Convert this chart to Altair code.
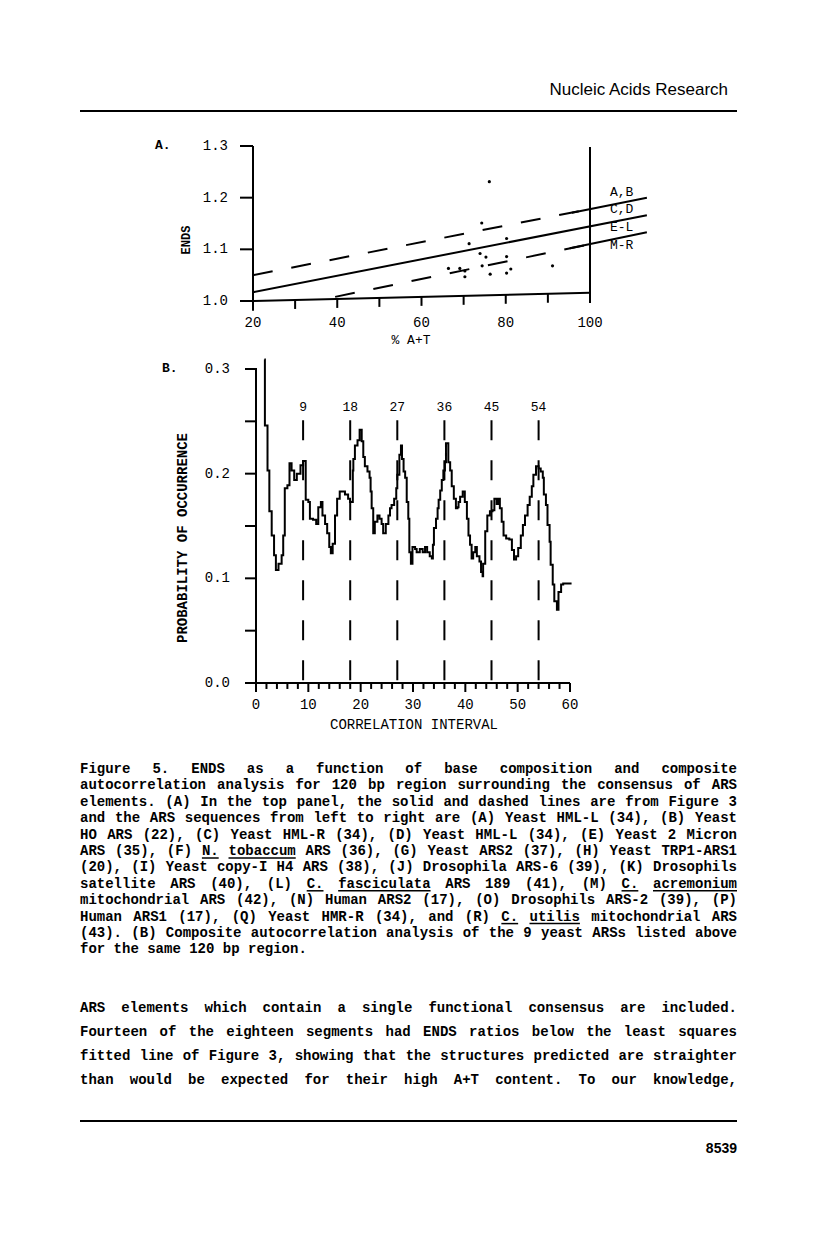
import altair as alt
import pandas as pd

MONO = "Liberation Mono"
SANS = "Liberation Sans"

# ---------------- Panel A data ----------------
a_pts_x = [76.1, 74.3, 71.3, 80.2, 73.9, 75.3, 80.2, 66.4, 69.1, 70.3, 70.3, 74.4, 76.3, 81.2, 80.2, 91.1]
a_pts_y = [1.231, 1.151, 1.111, 1.121, 1.092, 1.085, 1.086, 1.063, 1.063, 1.058, 1.047, 1.068, 1.052, 1.062, 1.054, 1.068]

a_upper_dash_x = [20, 100]
a_upper_dash_y = [1.050, 1.178]
a_upper_tail_x = [95.7, 113.5]
a_upper_tail_y = [1.171, 1.200]
a_fit_x = [20, 113.5]
a_fit_y = [1.017, 1.166]
a_lower_dash_x = [39.5, 100]
a_lower_dash_y = [1.008, 1.110]
a_lower_tail_x = [95.2, 113.5]
a_lower_tail_y = [1.102, 1.133]

a_axis_x = [20, 100]
a_axis_y = [1.000, 1.016]
a_xticks = [30, 40, 50, 60, 70, 80, 90]
a_xlabels = [20, 40, 60, 80, 100]
a_yticks = [1.0, 1.1, 1.2, 1.3]
a_ylabels = ["1.0", "1.1", "1.2", "1.3"]
a_group_labels = ["A,B", "C,D", "E-L", "M-R"]
a_group_y = [1.211, 1.178, 1.144, 1.108]
a_group_x = 107.5

# ---------------- Panel B data ----------------
b_u = [1.6, 1.7, 2.2, 2.55, 3.0, 3.45, 3.8, 4.3, 4.9, 5.2, 5.5, 6.0, 6.4, 6.8, 7.3, 7.8, 8.5, 9.0,
       9.5, 10.0, 10.3, 10.9, 11.5, 11.9, 12.4, 12.7, 13.2, 13.6, 14.0, 14.3, 14.65, 15.1, 15.5, 16.0,
       17.0, 17.6, 17.96, 18.5, 18.6, 18.9, 19.4, 19.8, 20.2, 20.5, 20.8, 21.3, 21.7, 21.9, 22.1, 22.4,
       22.7, 23.2, 23.6, 24.0, 24.3, 24.8, 25.3, 25.6, 25.9, 26.4, 26.8, 27.0, 27.4, 27.7, 27.9, 28.2,
       28.5, 28.8, 29.1, 29.3, 29.6, 29.9, 30.4, 30.7, 31.3, 31.85, 32.3, 32.7, 33.2, 33.6, 33.8, 34.0,
       34.4, 34.7, 34.9, 35.2, 35.5, 35.8, 36.1, 36.3, 36.6, 36.75, 37.1, 37.4, 37.8, 38.2, 38.5, 38.7,
       39.0, 39.5, 39.9, 40.3, 40.6, 40.9, 41.2, 41.5, 41.9, 42.2, 42.7, 43.0, 43.3, 43.4, 43.8, 44.2,
       44.7, 45.2, 45.55, 46.0, 46.3, 46.6, 46.95, 47.3, 47.8, 48.4, 48.9, 49.3, 49.7, 50.1, 50.6, 51.0,
       51.4, 51.9, 52.3, 52.7, 53.0, 53.5, 54.0, 54.4, 54.8, 55.0, 55.4, 55.7, 56.1, 56.3, 56.7, 57.0,
       57.5, 57.8, 58.3, 58.7, 60.3]
b_v = [0.309, 0.246, 0.203, 0.164, 0.141, 0.122, 0.108, 0.114, 0.122, 0.141, 0.186, 0.189, 0.210, 0.203,
       0.194, 0.200, 0.208, 0.212,
       0.175, 0.173, 0.157, 0.156, 0.152, 0.168, 0.173, 0.160, 0.152, 0.143, 0.130, 0.124, 0.133, 0.160,
       0.176, 0.183, 0.180, 0.176, 0.173, 0.203, 0.214, 0.227, 0.232, 0.242, 0.231, 0.216, 0.207, 0.202,
       0.196, 0.183, 0.167, 0.143, 0.154, 0.160, 0.157, 0.152, 0.143, 0.152, 0.160, 0.167, 0.170, 0.176,
       0.186, 0.199, 0.218, 0.227, 0.214, 0.202, 0.196, 0.173, 0.157, 0.125, 0.114, 0.130, 0.128, 0.125,
       0.128, 0.125, 0.130, 0.125, 0.121, 0.119, 0.132, 0.148, 0.157, 0.167, 0.175, 0.184, 0.194, 0.203,
       0.211, 0.229, 0.229, 0.211, 0.203, 0.188, 0.176, 0.167, 0.168, 0.173, 0.178, 0.183, 0.173, 0.157,
       0.141, 0.132, 0.119, 0.125, 0.130, 0.121, 0.116, 0.106, 0.102, 0.114, 0.145, 0.160, 0.164, 0.165,
       0.176, 0.171, 0.176, 0.167, 0.154, 0.141, 0.138, 0.137, 0.127, 0.118, 0.121, 0.129, 0.141, 0.151,
       0.160, 0.170, 0.178, 0.188, 0.199, 0.207, 0.205, 0.202, 0.196, 0.180, 0.170, 0.151, 0.135, 0.113,
       0.094, 0.078, 0.070, 0.087, 0.094, 0.095, 0.095]
b_periods = [9, 18, 27, 36, 45, 54]
b_dash_top = 0.251
b_period_label_v = 0.264
b_yticks = [0.0, 0.05, 0.10, 0.15, 0.20, 0.25, 0.30]
b_ylabels = [0.0, 0.1, 0.2, 0.3]
b_xticks = list(range(0, 61, 2))
b_xlabels = [0, 10, 20, 30, 40, 50, 60]

# ---------------- Text ----------------
caption_lines = [
    "Figure 5. ENDS as a function of base composition and composite",
    "autocorrelation analysis for 120 bp region surrounding the consensus of ARS",
    "elements. (A) In the top panel, the solid and dashed lines are from Figure 3",
    "and the ARS sequences from left to right are (A) Yeast HML-L (34), (B) Yeast",
    "HO ARS (22), (C) Yeast HML-R (34), (D) Yeast HML-L (34), (E) Yeast 2 Micron",
    "ARS (35), (F) N. tobaccum ARS (36), (G) Yeast ARS2 (37), (H) Yeast TRP1-ARS1",
    "(20), (I) Yeast copy-I H4 ARS (38), (J) Drosophila ARS-6 (39), (K) Drosophils",
    "satellite ARS (40), (L) C. fasciculata ARS 189 (41), (M) C. acremonium",
    "mitochondrial ARS (42), (N) Human ARS2 (17), (O) Drosophils ARS-2 (39), (P)",
    "Human ARS1 (17), (Q) Yeast HMR-R (34), and (R) C. utilis mitochondrial ARS",
    "(43). (B) Composite autocorrelation analysis of the 9 yeast ARSs listed above",
    "for the same 120 bp region.",
]
underlined = {"N.", "tobaccum", "C.", "fasciculata", "acremonium", "utilis"}
body_lines = [
    "ARS elements which contain a single functional consensus are included.",
    "Fourteen of the eighteen segments had ENDS ratios below the least squares",
    "fitted line of Figure 3, showing that the structures predicted are straighter",
    "than would be expected for their high A+T content. To our knowledge,",
]

CW = 8.4  # advance of 14px Liberation Mono


def layout(lines, x0, x1, y0, dy, last_ragged):
    rows, under = [], []
    for i, line in enumerate(lines):
        words = line.split()
        y = y0 + i * dy
        total = sum(len(w) for w in words) * CW
        ragged = last_ragged and i == len(lines) - 1
        gap = CW if (ragged or len(words) < 2) else (x1 - x0 - total) / (len(words) - 1)
        x = x0
        for w in words:
            rows.append({"w": w, "px": x, "py": y})
            if w in underlined:
                under.append({"x1": x, "x2": x + len(w) * CW, "yy": y + 7})
            x += len(w) * CW + gap
    return rows, under


cap_rows, cap_under = layout(caption_lines, 72, 729, 761, 16.4, True)
body_rows, _ = layout(body_lines, 72, 729, 1000, 24, False)
words_df = pd.DataFrame(cap_rows + body_rows)
under_df = pd.DataFrame(cap_under)

# ---------------- Scales ----------------
AX = alt.Scale(domain=[20, 100], range=[245, 582], nice=False, zero=False)
AY = alt.Scale(domain=[1.0, 1.3], range=[293, 138], nice=False, zero=False)
BX = alt.Scale(domain=[0, 60], range=[248, 562], nice=False, zero=False)
BY = alt.Scale(domain=[0, 0.3], range=[675, 361], nice=False, zero=False)


def q(field, scale, ch):
    if ch == "x":
        return alt.X(field, type="quantitative", scale=scale, axis=None)
    if ch == "y":
        return alt.Y(field, type="quantitative", scale=scale, axis=None)
    if ch == "x2":
        return alt.X2(field)
    return alt.Y2(field)


def label(txt, x, y, size=14, weight="normal", align="center", angle=0, font=MONO):
    kw = dict(fontSize=size, fontWeight=weight, align=align, baseline="middle", font=font, color="black")
    if angle:
        kw["angle"] = angle
    return alt.Chart(pd.DataFrame({"t": [txt]})).mark_text(**kw).encode(
        x=alt.value(x), y=alt.value(y), text="t:N")


layers = []

# ---- Panel A ----
dash_df = pd.DataFrame({
    "s": ["up"] * 2 + ["lo"] * 2,
    "x": a_upper_dash_x + a_lower_dash_x,
    "y": a_upper_dash_y + a_lower_dash_y,
})
solid_df = pd.DataFrame({
    "s": ["fit"] * 2 + ["up"] * 2 + ["lo"] * 2 + ["ax"] * 2,
    "x": a_fit_x + a_upper_tail_x + a_lower_tail_x + a_axis_x,
    "y": a_fit_y + a_upper_tail_y + a_lower_tail_y + a_axis_y,
})
layers.append(alt.Chart(dash_df).mark_line(color="black", strokeWidth=2, strokeDash=[20, 19]).encode(
    x=q("x", AX, "x"), y=q("y", AY, "y"), detail="s:N"))
layers.append(alt.Chart(solid_df).mark_line(color="black", strokeWidth=2).encode(
    x=q("x", AX, "x"), y=q("y", AY, "y"), detail="s:N"))
vr_df = pd.DataFrame({"x": [20, 100], "y": [0.981, 0.996], "y2": [1.3, 1.298]})
layers.append(alt.Chart(vr_df).mark_rule(color="black", strokeWidth=2).encode(
    x=q("x", AX, "x"), y=q("y", AY, "y"), y2="y2:Q"))
tick_top = [a_axis_y[0] + (a_axis_y[1] - a_axis_y[0]) * (t - 20) / 80 for t in a_xticks]
xt_df = pd.DataFrame({"x": a_xticks, "y": tick_top, "y2": [v - 0.0174 for v in tick_top]})
layers.append(alt.Chart(xt_df).mark_rule(color="black", strokeWidth=2).encode(
    x=q("x", AX, "x"), y=q("y", AY, "y"), y2="y2:Q"))
layers.append(alt.Chart(pd.DataFrame({"y": a_yticks})).mark_rule(color="black", strokeWidth=2).encode(
    y=q("y", AY, "y"), x=alt.value(232), x2=alt.value(245)))
layers.append(alt.Chart(pd.DataFrame({"x": a_pts_x, "y": a_pts_y})).mark_circle(
    color="black", size=10, opacity=1).encode(x=q("x", AX, "x"), y=q("y", AY, "y")))
layers.append(alt.Chart(pd.DataFrame({"x": a_xlabels, "t": [str(v) for v in a_xlabels]})).mark_text(
    font=MONO, fontSize=14, baseline="middle", color="black").encode(
    x=q("x", AX, "x"), y=alt.value(315), text="t:N"))
layers.append(alt.Chart(pd.DataFrame({"y": a_yticks, "t": a_ylabels})).mark_text(
    font=MONO, fontSize=14, align="right", baseline="middle", color="black").encode(
    y=q("y", AY, "y"), x=alt.value(220), text="t:N"))
layers.append(alt.Chart(pd.DataFrame({"x": [a_group_x] * 4, "y": a_group_y, "t": a_group_labels})).mark_text(
    font=MONO, fontSize=13, baseline="middle", color="black").encode(
    x=q("x", AX, "x"), y=q("y", AY, "y"), text="t:N"))
layers.append(label("A.", 147, 137, size=13, weight="bold", align="left"))
layers.append(label("ENDS", 178, 232, size=12, weight="bold", angle=270))
layers.append(label("% A+T", 403, 332, size=13))

# ---- Panel B ----
layers.append(alt.Chart(pd.DataFrame({"u": b_u, "v": b_v})).mark_line(
    color="black", strokeWidth=2, interpolate="step-after").encode(
    x=q("u", BX, "x"), y=q("v", BY, "y")))
per_df = pd.DataFrame({"u": b_periods, "v": [b_dash_top] * 6, "v2": [0.0] * 6,
                       "t": [str(p) for p in b_periods]})
layers.append(alt.Chart(per_df).mark_rule(color="black", strokeWidth=2, strokeDash=[20, 20]).encode(
    x=q("u", BX, "x"), y=q("v", BY, "y"), y2="v2:Q"))
layers.append(alt.Chart(per_df).mark_text(font=MONO, fontSize=13, baseline="middle", color="black").encode(
    x=q("u", BX, "x"), y=alt.value(399), text="t:N"))
ax_df = pd.DataFrame({"u": [0, 0], "v": [-0.0086, 0.0], "u2": [0, 60], "v2": [0.3, 0.0]})
layers.append(alt.Chart(ax_df).mark_rule(color="black", strokeWidth=2).encode(
    x=q("u", BX, "x"), y=q("v", BY, "y"), x2="u2:Q", y2="v2:Q"))
bxt_df = pd.DataFrame({"u": b_xticks, "v": [0.0] * len(b_xticks),
                       "v2": [-0.0086 if t % 10 == 0 else -0.0057 for t in b_xticks]})
layers.append(alt.Chart(bxt_df).mark_rule(color="black", strokeWidth=2).encode(
    x=q("u", BX, "x"), y=q("v", BY, "y"), y2="v2:Q"))
layers.append(alt.Chart(pd.DataFrame({"v": b_yticks})).mark_rule(color="black", strokeWidth=2).encode(
    y=q("v", BY, "y"), x=alt.value(237), x2=alt.value(249)))
layers.append(alt.Chart(pd.DataFrame({"v": b_ylabels, "t": [f"{v:.1f}" for v in b_ylabels]})).mark_text(
    font=MONO, fontSize=14, align="right", baseline="middle", color="black").encode(
    y=q("v", BY, "y"), x=alt.value(222), text="t:N"))
layers.append(alt.Chart(pd.DataFrame({"u": b_xlabels, "t": [str(v) for v in b_xlabels]})).mark_text(
    font=MONO, fontSize=14, baseline="middle", color="black").encode(
    x=q("u", BX, "x"), y=alt.value(697), text="t:N"))
layers.append(label("B.", 154, 360, size=13, weight="bold", align="left"))
layers.append(label("PROBABILITY OF OCCURRENCE", 175, 530, size=14, weight="bold", angle=270))
layers.append(label("CORRELATION INTERVAL", 406, 717, size=14))

# ---- Page text ----
layers.append(label("Nucleic Acids Research", 720, 82, size=17, align="right", font=SANS))
layers.append(alt.Chart(pd.DataFrame({"k": [0]})).mark_rule(color="black", strokeWidth=2).encode(
    x=alt.value(72), x2=alt.value(729), y=alt.value(103)))
layers.append(alt.Chart(words_df).mark_text(
    font=MONO, fontSize=14, fontWeight="bold", align="left", baseline="middle", color="black").encode(
    x=alt.X("px:Q", scale=None, axis=None), y=alt.Y("py:Q", scale=None, axis=None), text="w:N"))
layers.append(alt.Chart(under_df).mark_rule(color="black", strokeWidth=1.5).encode(
    x=alt.X("x1:Q", scale=None, axis=None), x2="x2:Q", y=alt.Y("yy:Q", scale=None, axis=None)))
layers.append(alt.Chart(pd.DataFrame({"k": [0]})).mark_rule(color="black", strokeWidth=2).encode(
    x=alt.value(72), x2=alt.value(729), y=alt.value(1113)))
layers.append(label("8539", 729, 1141, size=14, weight="bold", align="right", font=SANS))

chart = alt.layer(*layers).resolve_scale(x="independent", y="independent").properties(
    width=800, height=1220, autosize=alt.AutoSizeParams(type="none"), padding=0,
    background="white",
).configure_view(stroke=None)

chart.save("out.html", embed_options={"renderer": "svg", "actions": False})
